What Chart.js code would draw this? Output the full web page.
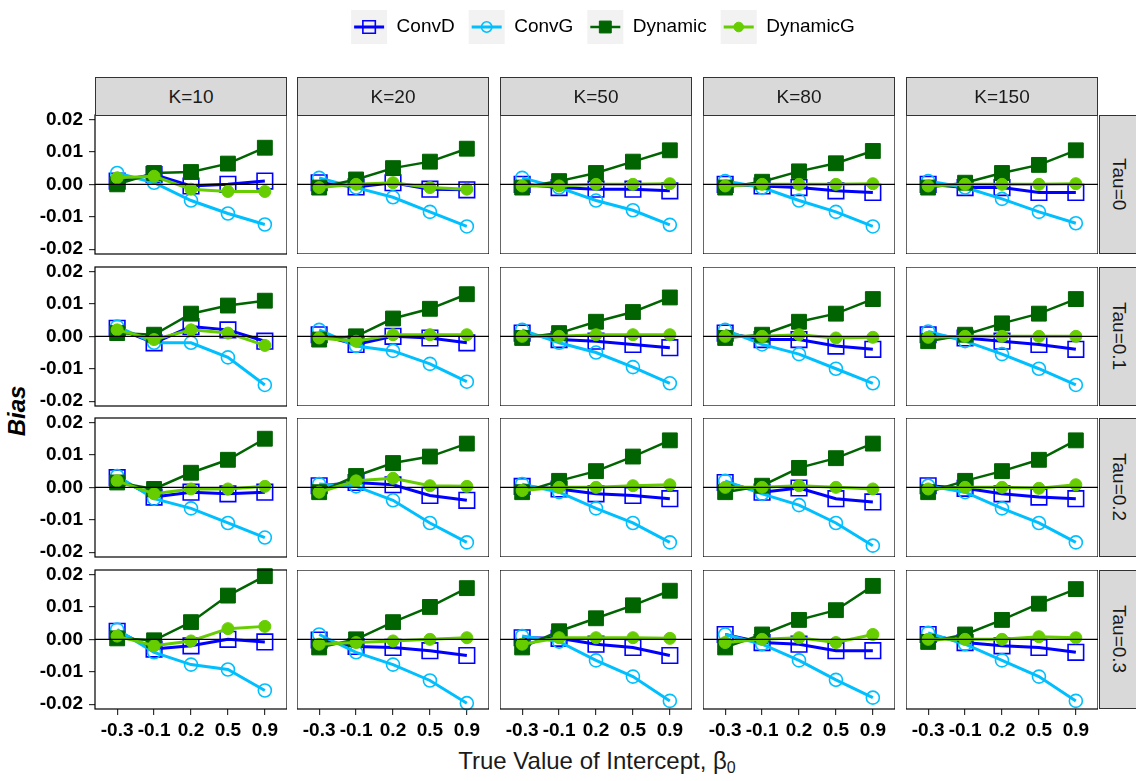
<!DOCTYPE html>
<html>
<head>
<meta charset="utf-8">
<script src="https://cdn.jsdelivr.net/npm/chart.js@4.4.1/dist/chart.umd.min.js"></script>
<style>
  html, body { margin: 0; padding: 0; background: #fff; }
  body { width: 1136px; height: 781px; overflow: hidden; position: relative;
         font-family: 'Liberation Sans', Arial, sans-serif; }
  .cbox { position: absolute; }
  .strip { position: absolute; background: #d9d9d9; border: 1px solid #333; box-sizing: border-box;
           color: #1a1a1a; font-size: 19px; display: flex; align-items: center; justify-content: center; }
  .strip.v span { writing-mode: vertical-rl; }
  .ytitle { position: absolute; left: 17px; top: 411px; transform: translate(-50%, -50%) rotate(-90deg);
            font-size: 24px; font-weight: bold; font-style: italic; white-space: nowrap; }
  .xtitle { position: absolute; left: 597px; top: 762px; transform: translate(-50%, -50%);
            font-size: 24px; color: #1a1a1a; white-space: nowrap; }
  .xtitle sub { font-size: 16px; vertical-align: -4px; }
</style>
</head>
<body>
<div class="ytitle">Bias</div>
<div class="xtitle">True Value of Intercept, β<sub>0</sub></div>
<script>
// categories and labels
const betaLabels = ['-0.3', '-0.1', '0.2', '0.5', '0.9'];
const kLabels = ['K=10', 'K=20', 'K=50', 'K=80', 'K=150'];
const tauLabels = ['Tau=0', 'Tau=0.1', 'Tau=0.2', 'Tau=0.3'];
const yTicks = [-0.02, -0.01, 0, 0.01, 0.02];
const seriesNames = ['ConvD', 'ConvG', 'Dynamic', 'DynamicG'];

// bias values, indexed [tau][K][beta]
const convD = [
  [[0.001, 0.003, -0.0005, 0.0, 0.001], [0.0005, -0.0008, 0.0005, -0.0015, -0.0017], [0.0, -0.001, -0.0015, -0.0015, -0.002], [0.0, -0.0005, -0.001, -0.002, -0.0025], [0.0, -0.001, -0.001, -0.0025, -0.0025]],
  [[0.0025, -0.002, 0.003, 0.002, -0.0015], [0.0005, -0.0025, 0.0, -0.0005, -0.002], [0.001, -0.001, -0.0015, -0.0025, -0.0035], [0.001, -0.001, -0.001, -0.003, -0.004], [0.0005, -0.0005, -0.0015, -0.0025, -0.004]],
  [[0.003, -0.003, -0.0015, -0.002, -0.0015], [0.0005, 0.0015, 0.0008, -0.0025, -0.004], [0.0003, -0.0005, -0.002, -0.0025, -0.0035], [0.0015, -0.0015, -0.0002, -0.0035, -0.0045], [0.0005, -0.0003, -0.002, -0.003, -0.0035]],
  [[0.0025, -0.003, -0.002, 0.0, -0.0008], [-0.0002, -0.0022, -0.0025, -0.0035, -0.005], [0.0005, 0.0003, -0.0015, -0.0025, -0.005], [0.0015, -0.001, -0.0015, -0.0035, -0.0035], [0.0015, -0.001, -0.002, -0.0025, -0.004]]
];
const convG = [
  [[0.0035, 0.0005, -0.005, -0.009, -0.0124], [0.002, -0.001, -0.004, -0.0085, -0.013], [0.002, -0.001, -0.005, -0.008, -0.0125], [0.001, -0.001, -0.005, -0.0085, -0.013], [0.001, -0.001, -0.0045, -0.0085, -0.012]],
  [[0.003, -0.002, -0.002, -0.0065, -0.015], [0.002, -0.003, -0.0045, -0.0085, -0.014], [0.002, -0.002, -0.005, -0.0095, -0.0145], [0.002, -0.0025, -0.0055, -0.01, -0.0145], [0.0015, -0.0015, -0.0055, -0.01, -0.015]],
  [[0.0035, -0.0035, -0.0065, -0.011, -0.0155], [0.001, 0.0003, -0.004, -0.011, -0.017], [0.001, -0.0015, -0.0065, -0.011, -0.017], [0.002, -0.002, -0.0055, -0.011, -0.018], [0.0005, -0.0015, -0.0065, -0.011, -0.017]],
  [[0.003, -0.004, -0.0078, -0.0093, -0.0158], [0.0015, -0.004, -0.0078, -0.0127, -0.0197], [0.001, -0.0007, -0.0065, -0.0115, -0.019], [0.0015, -0.0015, -0.0065, -0.0125, -0.018], [0.002, -0.0015, -0.0065, -0.0115, -0.019]]
];
const dynamic = [
  [[0.0, 0.0035, 0.0038, 0.0064, 0.0113], [-0.001, 0.0015, 0.005, 0.007, 0.011], [-0.001, 0.001, 0.0035, 0.007, 0.0105], [-0.001, 0.0008, 0.004, 0.0065, 0.0103], [-0.001, 0.0005, 0.0035, 0.006, 0.0105]],
  [[0.001, 0.0005, 0.007, 0.0095, 0.011], [-0.001, 0.0, 0.0055, 0.0085, 0.013], [-0.0005, 0.001, 0.0045, 0.0075, 0.012], [-0.0005, 0.0005, 0.0045, 0.007, 0.0115], [-0.0015, 0.0005, 0.004, 0.007, 0.0115]],
  [[0.0015, -0.0005, 0.0045, 0.0085, 0.015], [-0.0015, 0.0035, 0.0075, 0.0095, 0.0135], [-0.0015, 0.002, 0.005, 0.0095, 0.0145], [-0.0015, 0.0005, 0.006, 0.009, 0.0135], [-0.0015, 0.002, 0.005, 0.0085, 0.0145]],
  [[0.0003, -0.0003, 0.0053, 0.0135, 0.0195], [-0.0025, 0.0, 0.0053, 0.01, 0.0158], [-0.0025, 0.0025, 0.0065, 0.0105, 0.015], [-0.0025, 0.0015, 0.006, 0.009, 0.0165], [-0.0008, 0.0015, 0.006, 0.011, 0.0155]]
];
const dynamicG = [
  [[0.002, 0.0025, -0.0015, -0.0022, -0.0022], [-0.001, 0.0, 0.0005, -0.001, -0.0015], [-0.0005, -0.0005, 0.0, 0.0, 0.0002], [-0.0005, 0.0, 0.0, 0.0, 0.0002], [-0.0005, 0.0, 0.0, 0.0, 0.0002]],
  [[0.002, -0.001, 0.002, 0.001, -0.0028], [-0.0005, -0.0015, 0.0005, 0.0005, 0.0005], [0.0, 0.0, 0.0005, 0.0005, 0.0005], [0.0, 0.0, 0.0005, -0.0005, -0.0003], [-0.0003, 0.0, 0.0, 0.0, 0.0]],
  [[0.002, -0.002, -0.0005, -0.0005, 0.0003], [-0.0015, 0.002, 0.0028, 0.0005, 0.0003], [-0.001, 0.0, 0.0, 0.0005, 0.0008], [0.0, 0.0, 0.0005, 0.0, -0.0005], [-0.0005, 0.0, 0.0, -0.0003, 0.0008]],
  [[0.001, -0.002, -0.0005, 0.0033, 0.004], [-0.0015, -0.001, -0.0005, 0.0, 0.0005], [-0.0015, 0.0005, 0.0005, 0.0005, 0.0003], [-0.001, 0.0, 0.0005, -0.001, 0.0015], [0.0, 0.0, 0.0, 0.0008, 0.0005]]
];

// look of each series
const seriesStyle = [
  { color: '#0000FF', line: 3, pointStyle: 'rect', radius: 11, fill: 'rgba(0,0,0,0)', pointBorder: 1.6 },
  { color: '#00BFFF', line: 3, pointStyle: 'circle', radius: 6.5, fill: 'rgba(0,0,0,0)', pointBorder: 1.6 },
  { color: '#006400', line: 2.5, pointStyle: 'rect', radius: 10.5, fill: '#006400', pointBorder: 1 },
  { color: '#66CD00', line: 3, pointStyle: 'circle', radius: 6, fill: '#66CD00', pointBorder: 1 }
];
const allSeries = [convD, convG, dynamic, dynamicG];

// panel layout
const colLeft = [95, 297, 500, 703, 906];
const rowTop = [115, 267, 418, 570];
const PW = 192, PH = 139;
const XAXIS_H = 42;
const EDGE = 12; // extra room so the end tick labels of the y axis are not cut
const FONT = "'Liberation Sans', Arial, sans-serif";

// panel border drawn on top of the data
const frame = {
  id: 'frame',
  afterDatasetsDraw(chart) {
    const a = chart.chartArea, c = chart.ctx;
    c.save();
    c.strokeStyle = '#000';
    c.lineWidth = 1.2;
    c.strokeRect(a.left, a.top, a.right - a.left, a.bottom - a.top);
    c.restore();
  }
};

function makeCanvas(left, top, w, h) {
  const box = document.createElement('div');
  box.className = 'cbox';
  box.style.left = left + 'px'; box.style.top = top + 'px';
  box.style.width = w + 'px'; box.style.height = h + 'px';
  const cv = document.createElement('canvas');
  cv.width = w; cv.height = h;
  box.appendChild(cv);
  document.body.appendChild(box);
  return cv;
}

function makeStrip(left, top, w, h, text, vertical) {
  const d = document.createElement('div');
  d.className = 'strip' + (vertical ? ' v' : '');
  d.style.left = left + 'px'; d.style.top = top + 'px';
  d.style.width = w + 'px'; d.style.height = h + 'px';
  const s = document.createElement('span');
  s.textContent = text;
  d.appendChild(s);
  document.body.appendChild(d);
}

function drawPanel(r, c) {
  const showY = c === 0, showX = r === tauLabels.length - 1;
  const padTop = showY ? EDGE : 0;
  const padBottom = showY && !showX ? EDGE : 0;
  const left = showY ? 0 : colLeft[c];
  const w = showY ? colLeft[c] + PW : PW;
  const h = PH + (showX ? XAXIS_H : 0) + padTop + padBottom;
  const cv = makeCanvas(left, rowTop[r] - padTop, w, h);

  const datasets = allSeries.map((s, i) => {
    const st = seriesStyle[i];
    return {
      label: seriesNames[i],
      data: s[r][c].map((v, j) => ({ x: j, y: v })),
      borderColor: st.color,
      borderWidth: st.line,
      pointStyle: st.pointStyle,
      pointRadius: st.radius,
      pointBackgroundColor: st.fill,
      pointBorderColor: st.color,
      pointBorderWidth: st.pointBorder,
      order: 4 - i,
      clip: false
    };
  });
  // horizontal reference line at zero
  datasets.push({
    label: 'zero',
    data: [{ x: -0.6, y: 0 }, { x: 4.6, y: 0 }],
    borderColor: '#000', borderWidth: 1.2, pointRadius: 0, order: 0
  });

  new Chart(cv, {
    type: 'line',
    data: { datasets: datasets },
    options: {
      responsive: false, maintainAspectRatio: false, animation: false, devicePixelRatio: 1,
      layout: { padding: { top: padTop, bottom: padBottom, left: 0, right: 0 }, autoPadding: false },
      plugins: { legend: { display: false }, tooltip: { enabled: false } },
      scales: {
        x: {
          type: 'linear', min: -0.6, max: 4.6, display: showX,
          afterBuildTicks: s => { s.ticks = betaLabels.map((b, i) => ({ value: i })); },
          afterFit: s => { s.height = showX ? XAXIS_H : 0; s.paddingLeft = 0; s.paddingRight = 0; },
          grid: { display: true, drawOnChartArea: false, drawTicks: true, tickLength: 6, color: '#333', lineWidth: 1.2 },
          border: { display: false },
          ticks: {
            autoSkip: false, maxRotation: 0, padding: 4, color: '#000',
            font: { family: FONT, size: 19, weight: 'bold' },
            callback: v => betaLabels[Math.round(v)]
          }
        },
        y: {
          type: 'linear', min: -0.0215, max: 0.0214, display: showY,
          afterBuildTicks: s => { s.ticks = yTicks.map(v => ({ value: v })); },
          afterFit: s => { s.width = showY ? colLeft[0] : 0; s.paddingTop = 0; s.paddingBottom = 0; },
          grid: { display: true, drawOnChartArea: false, drawTicks: true, tickLength: 6, color: '#333', lineWidth: 1.2 },
          border: { display: false },
          ticks: {
            padding: 6, color: '#000',
            font: { family: FONT, size: 19, weight: 'bold' },
            callback: v => v.toFixed(2)
          }
        }
      }
    },
    plugins: [frame]
  });
}

for (let r = 0; r < tauLabels.length; r++) {
  for (let c = 0; c < kLabels.length; c++) drawPanel(r, c);
  makeStrip(1099, rowTop[r], 40, PH, tauLabels[r], true);
}
kLabels.forEach((k, c) => makeStrip(colLeft[c], 77, PW, 39, k, false));

// legend: key boxes come from the legend, line + marker drawn into them
const legendKeys = {
  id: 'legendKeys',
  afterDraw(chart) {
    const ctx = chart.ctx, boxes = chart.legend.legendHitBoxes;
    boxes.forEach((hb, i) => {
      const st = seriesStyle[i];
      const cx = hb.left + 18, cy = hb.top + hb.height / 2;
      ctx.save();
      ctx.strokeStyle = st.color;
      ctx.lineWidth = st.line;
      ctx.beginPath();
      ctx.moveTo(hb.left + 3, cy);
      ctx.lineTo(hb.left + 33, cy);
      ctx.stroke();
      ctx.fillStyle = st.fill;
      ctx.lineWidth = st.pointBorder;
      Chart.helpers.drawPoint(ctx, { pointStyle: st.pointStyle, radius: st.radius * 0.8, borderWidth: st.pointBorder, rotation: 0 }, cx, cy);
      ctx.restore();
    });
  }
};

new Chart(makeCanvas(70, -4, 1066, 120), {
  type: 'line',
  data: { datasets: seriesNames.map(n => ({ label: n, data: [] })) },
  options: {
    responsive: false, maintainAspectRatio: false, animation: false, devicePixelRatio: 1,
    layout: { padding: 0 },
    scales: { x: { display: false }, y: { display: false } },
    plugins: {
      tooltip: { enabled: false },
      legend: {
        position: 'top',
        labels: {
          boxWidth: 36, boxHeight: 34, padding: 14, color: '#1a1a1a',
          font: { family: FONT, size: 19 },
          generateLabels: chart => seriesNames.map((n, i) => ({
            text: n, fillStyle: '#F2F2F2', strokeStyle: '#F2F2F2', lineWidth: 0,
            hidden: false, datasetIndex: i
          }))
        }
      }
    }
  },
  plugins: [legendKeys]
});
</script>
</body>
</html>
